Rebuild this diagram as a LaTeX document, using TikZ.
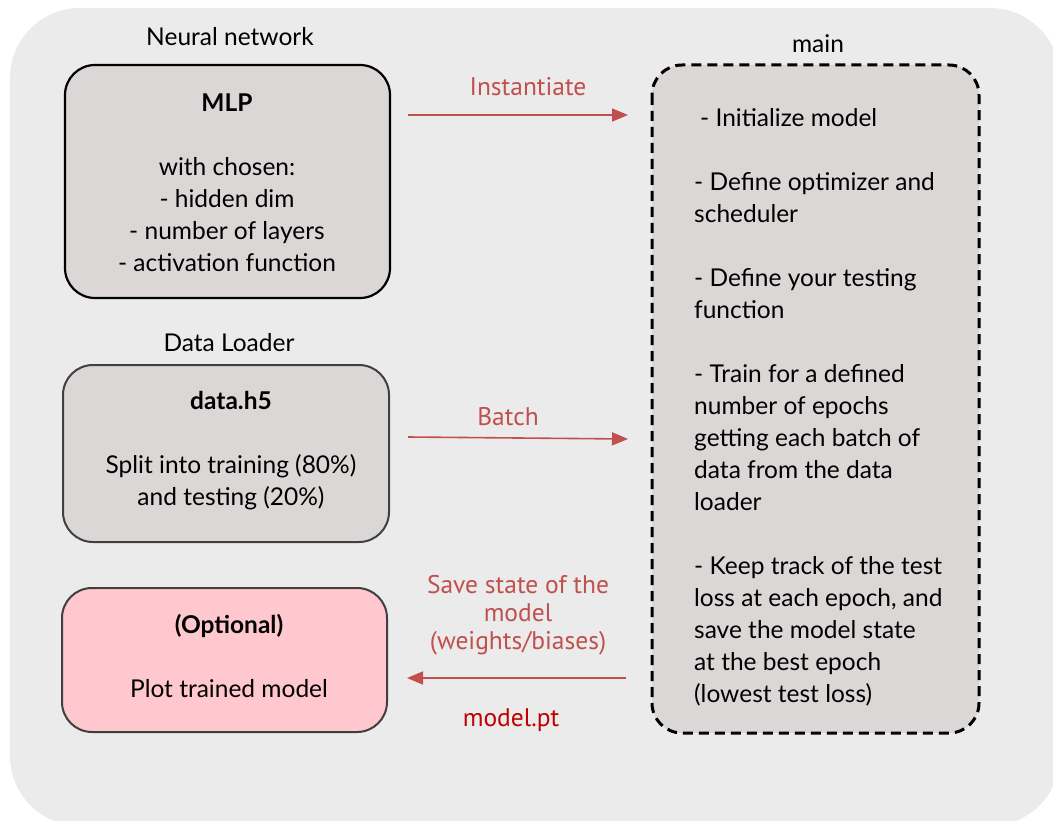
\documentclass[tikz,border=0pt]{standalone}
\usepackage{fontspec}
\setmainfont{Lato}
\newfontfamily\redfont{PT Sans}
\usetikzlibrary{arrows.meta}
\definecolor{bgc}{HTML}{EBEBEB}
\definecolor{boxc}{HTML}{DAD7D6}
\definecolor{pinkc}{HTML}{FFC7CE}
\definecolor{edgec}{HTML}{404040}
\definecolor{redl}{HTML}{C0504D}
\definecolor{darkred}{HTML}{C00000}
\begin{document}
\begin{tikzpicture}[x=1pt,y=-1pt,
  txt/.style={font=\fontsize{24.5}{32}\selectfont, inner sep=0pt, align=center},
  title/.style={font=\fontsize{24.5}{32}\selectfont, inner sep=0pt},
  box/.style={draw, rounded corners=30pt, line width=2.2pt},
  redlab/.style={font=\redfont\fontsize{25.5}{28}\selectfont, text=redl, inner sep=0pt, align=center},
  redarrow/.style={draw=redl, line width=1.6pt, -{Triangle[length=16pt,width=13pt]}}
]
\useasboundingbox (0,0) rectangle (1053,821);
\fill[bgc, rounded corners=70pt] (10,8) rectangle (1060,826);

% boxes
\draw[box, fill=boxc] (65,65) rectangle (390,298);
\draw[box, fill=boxc, draw=edgec, line width=2pt] (63,365) rectangle (389,542);
\draw[box, fill=pinkc, draw=edgec, line width=2pt] (62,588) rectangle (387,732);
\draw[box, fill=boxc, line width=3pt, dash pattern=on 10pt off 6pt] (652,65) rectangle (979,733);

% titles
\node[title] (tnn) at (230,37) {Neural network};
\node[title] (tdl) at (229,343) {Data Loader};
\node[title] (tmain) at (818,44) {main};

% box texts
\node[txt] (mlp) at (227,183) {\textbf{MLP}\\[32pt]with chosen:\\- hidden dim\\- number of layers\\- activation function};
\node[txt] (data) at (231,451) {\textbf{data.h5}\\[32pt]Split into training (80\%)\\and testing (20\%)};
\node[txt] (opt) at (229,656) {\textbf{(Optional)}\\[32pt]Plot trained model};
\node[txt, align=left, anchor=west] (mainx) at (694,407) {\hspace{6pt}- Initialize model\\[32pt]- Define optimizer and\\scheduler\\[32pt]- Define your testing\\function\\[32pt]- Train for a defined\\number of epochs\\getting each batch of\\data from the data\\loader\\[32pt]- Keep track of the test\\loss at each epoch, and\\save the model state\\at the best epoch\\(lowest test loss)};

% arrows
\coordinate (a1s) at (408,115);
\coordinate (a1e) at (628,115);
\coordinate (a2s) at (408,437);
\coordinate (a2e) at (628,439);
\coordinate (a3s) at (626,678);
\coordinate (a3e) at (407,678);
\draw[redarrow] (a1s) -- (a1e);
\draw[redarrow] (a2s) -- (a2e);
\draw[redarrow] (a3s) -- (a3e);

\node[redlab] (linst) at (528,87) {Instantiate};
\node[redlab] (lbatch) at (508,417) {Batch};
\node[redlab] (lsave) at (518,615) {Save state of the\\model\\(weights/biases)};
\node[redlab, text=darkred] (lpt) at (511,720) {model.pt};
\end{tikzpicture}
\end{document}
